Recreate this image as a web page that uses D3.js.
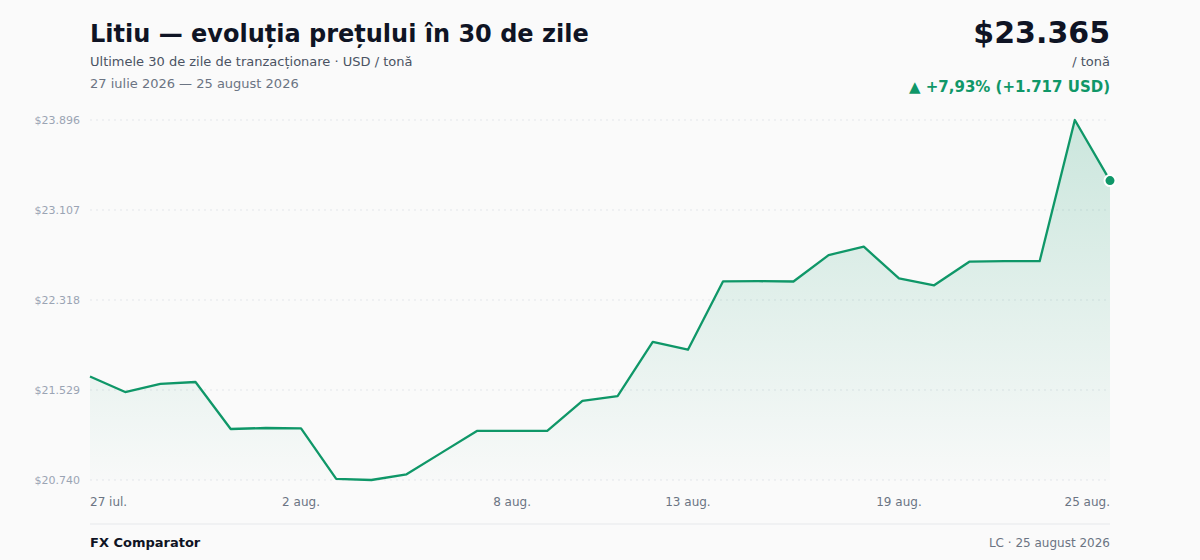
<!DOCTYPE html>
<html><head><meta charset="utf-8">
<script src="https://cdn.jsdelivr.net/npm/d3@7/dist/d3.min.js"></script>
<style>
html,body{margin:0;padding:0;background:#fafafa;}
svg{display:block;font-family:"DejaVu Sans",sans-serif;}
</style></head><body>
<svg id="c" width="1200" height="560"></svg>
<script>
const dates = ["27 iul.","28 iul.","29 iul.","30 iul.","31 iul.","1 aug.","2 aug.","3 aug.","4 aug.","5 aug.","6 aug.","7 aug.","8 aug.","9 aug.","10 aug.","11 aug.","12 aug.","13 aug.","14 aug.","15 aug.","16 aug.","17 aug.","18 aug.","19 aug.","20 aug.","21 aug.","22 aug.","23 aug.","24 aug.","25 aug."];
const prices = [21648,21511,21582,21599,21187,21196,21192,20750,20740,20790,20980,21170,21170,21170,21433,21476,21950,21882,22482,22483,22480,22712,22785,22508,22447,22654,22658,22658,23896,23365];
const yTicks = [20740,21529,22318,23107,23896];
const xTickLabels = ["27 iul.","2 aug.","8 aug.","13 aug.","19 aug.","25 aug."];

const svg = d3.select("#c");
const L=90, R=1110, T=120, B=480;
const green = "#0f9768";

const x = d3.scalePoint().domain(dates).range([L,R]);
const y = d3.scaleLinear().domain([d3.min(prices), d3.max(prices)]).range([B,T]);
const fmt = v => "$" + d3.format(",")(v).replace(/,/g,".");

const defs = svg.append("defs");
const g = defs.append("linearGradient").attr("id","ag").attr("gradientUnits","userSpaceOnUse")
  .attr("x1",0).attr("y1",T).attr("x2",0).attr("y2",B);
g.append("stop").attr("offset","0%").attr("stop-color",green).attr("stop-opacity",0.2);
g.append("stop").attr("offset","100%").attr("stop-color",green).attr("stop-opacity",0.01);

// grid
svg.append("g").selectAll("line").data(yTicks).join("line")
  .attr("x1",L).attr("x2",R).attr("y1",d=>y(d)).attr("y2",d=>y(d))
  .attr("stroke","#e3e6ea").attr("stroke-width",1).attr("stroke-dasharray","2,4");
svg.append("g").selectAll("text").data(yTicks).join("text")
  .attr("x",80).attr("y",d=>y(d)+4).attr("text-anchor","end")
  .attr("font-size",11).attr("fill","#9aa4b4").text(fmt);

// area + line
const data = dates.map((d,i)=>({d, v:prices[i]}));
svg.append("path").datum(data)
  .attr("d", d3.area().x(p=>x(p.d)).y0(B).y1(p=>y(p.v)))
  .attr("fill","url(#ag)");
svg.append("path").datum(data)
  .attr("d", d3.line().x(p=>x(p.d)).y(p=>y(p.v)))
  .attr("fill","none").attr("stroke",green).attr("stroke-width",2.3).attr("stroke-linejoin","round");
const last = data[data.length-1];
svg.append("circle").attr("cx",x(last.d)).attr("cy",y(last.v)).attr("r",5.5)
  .attr("fill",green).attr("stroke","#fff").attr("stroke-width",2);

// x labels
svg.append("g").selectAll("text").data(xTickLabels).join("text")
  .attr("x",d=>x(d)).attr("y",506)
  .attr("text-anchor",(d,i)=> i===0 ? "start" : (i===xTickLabels.length-1 ? "end" : "middle"))
  .attr("font-size",12).attr("fill","#6b7483").text(d=>d);

// header
svg.append("text").attr("x",90).attr("y",42).attr("font-size",24).attr("font-weight","bold").attr("fill","#0f1424")
  .text("Litiu — evoluția prețului în 30 de zile");
svg.append("text").attr("x",90).attr("y",66).attr("font-size",13).attr("fill","#4a5363")
  .text("Ultimele 30 de zile de tranzacționare · USD / tonă");
svg.append("text").attr("x",90).attr("y",88).attr("font-size",13).attr("fill","#6b7483")
  .text("27 iulie 2026 — 25 august 2026");

svg.append("text").attr("x",1110).attr("y",43).attr("text-anchor","end").attr("font-size",30).attr("font-weight","bold").attr("fill","#0f1424")
  .text(fmt(last.v));
svg.append("text").attr("x",1110).attr("y",66).attr("text-anchor","end").attr("font-size",13).attr("fill","#4a5363")
  .text("/ tonă");
const chg = last.v - prices[0];
const pct = (chg/prices[0]*100).toFixed(2).replace(".",",");
svg.append("text").attr("x",1110).attr("y",92).attr("text-anchor","end").attr("font-size",15).attr("font-weight","bold").attr("fill",green)
  .text("▲ +" + pct + "% (+" + d3.format(",")(chg).replace(/,/g,".") + " USD)");

// footer
svg.append("line").attr("x1",L).attr("x2",R).attr("y1",524).attr("y2",524).attr("stroke","#e6e8eb").attr("stroke-width",1);
svg.append("text").attr("x",90).attr("y",547).attr("font-size",13).attr("font-weight","bold").attr("fill","#0f1424").text("FX Comparator");
svg.append("text").attr("x",1110).attr("y",547).attr("text-anchor","end").attr("font-size",12).attr("fill","#6b7483").text("LC · 25 august 2026");
</script></body></html>
